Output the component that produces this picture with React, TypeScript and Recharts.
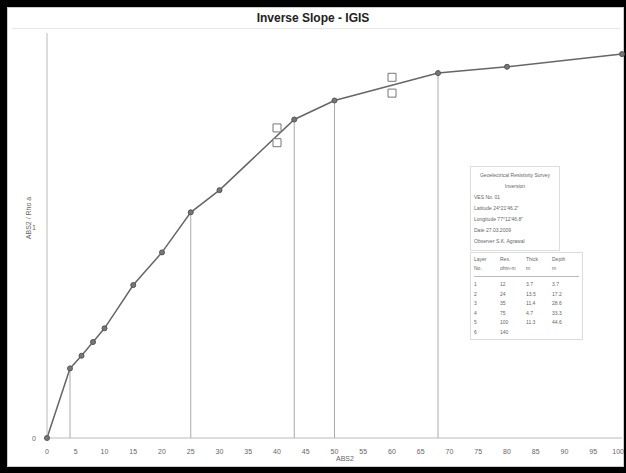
import {
  ComposedChart,
  Line,
  Scatter,
  XAxis,
  YAxis,
  ReferenceLine,
} from "recharts";

// depth (ABS2) and ratio (ABS2 / Rho a) along the fitted curve
const depth = [0, 4, 6, 8, 10, 15, 20, 25, 30, 43, 50, 68, 80, 100];
const ratio = [0, 0.33, 0.39, 0.455, 0.52, 0.725, 0.88, 1.07, 1.175, 1.51, 1.6, 1.73, 1.76, 1.82];

// off-curve observed points (hollow squares)
const obsDepth = [40, 40, 60, 60];
const obsRatio = [1.4, 1.47, 1.635, 1.71];

// layer boundaries marked with drop lines
const breaks = [4, 25, 43, 50, 68];

const xTicks = [0, 5, 10, 15, 20, 25, 30, 35, 40, 45, 50, 55, 60, 65, 70, 75, 80, 85, 90, 95, 100];
const yTicks = [0, 1];

const infoLines = [
  "Geoelectrical Resistivity Survey",
  "Inversion",
  "VES No. 01",
  "Latitude 24°21'46.2\"",
  "Longitude 77°12'46.8\"",
  "Date 27.03.2009",
  "Observer S.K. Agrawal",
];
const layerNo = ["1", "2", "3", "4", "5", "6"];
const layerRes = ["12", "24", "35", "75", "100", "140"];
const layerThick = ["3.7", "13.5", "11.4", "4.7", "11.3", ""];
const layerDepth = ["3.7", "17.2", "28.6", "33.3", "44.6", ""];

const curve = depth.map((d, i) => ({ x: d, y: ratio[i] }));
const obs = obsDepth.map((d, i) => ({ x: d, y: obsRatio[i] }));

const yAt = (x: number) => ratio[depth.indexOf(x)];

const font = "Liberation Sans, Arial, sans-serif";
const grey = "#bbb";

function XTick(props: any) {
  const { x, y, payload } = props;
  const last = payload.value === 100;
  return (
    <text
      x={last ? x + 2 : x}
      y={y + 8}
      textAnchor={last ? "end" : "middle"}
      fontSize={7}
      fill="#666"
      fontFamily={font}
    >
      {payload.value}
    </text>
  );
}

function YTick(props: any) {
  const { x, y, payload } = props;
  return (
    <text x={x - 3} y={y + 3} textAnchor="end" fontSize={7} fill="#666" fontFamily={font}>
      {payload.value}
    </text>
  );
}

export default function App() {
  const col = { display: "inline-block", width: 26, whiteSpace: "nowrap" as const };
  return (
    <div
      style={{
        position: "fixed",
        left: 0,
        top: 0,
        width: 626,
        height: 473,
        background: "#000",
        fontFamily: font,
      }}
    >
      <div
        style={{
          position: "absolute",
          left: 7,
          top: 7,
          width: 617,
          height: 460,
          background: "#fff",
          border: "1px solid #ccc",
          boxSizing: "border-box",
        }}
      />
      <div
        style={{
          position: "absolute",
          left: 0,
          top: 11,
          width: 626,
          textAlign: "center",
          fontWeight: "bold",
          fontSize: 12,
          color: "#222",
        }}
      >
        Inverse Slope - IGIS
      </div>
      <div style={{ position: "absolute", left: 12, top: 28, width: 608, height: 1, background: "#e8e8e8" }} />
      <div style={{ position: "absolute", left: 0, top: 0 }}>
        <ComposedChart
          width={626}
          height={473}
          margin={{ top: 33, right: 4, bottom: 15, left: 27 }}
        >
          <XAxis
            dataKey="x"
            type="number"
            domain={[0, 100]}
            ticks={xTicks}
            interval={0}
            tick={<XTick />}
            tickLine={false}
            stroke={grey}
            height={20}
            allowDuplicatedCategory={false}
          />
          <XAxis xAxisId="top" orientation="top" type="number" domain={[0, 100]} tick={false} tickLine={false} stroke={grey} height={0} />
          <YAxis
            type="number"
            domain={[0, 1.92]}
            ticks={yTicks}
            tick={<YTick />}
            tickLine={false}
            stroke={grey}
            width={20}
          />
          <YAxis yAxisId="right" orientation="right" type="number" domain={[0, 1.92]} tick={false} tickLine={false} stroke={grey} width={0} />
          {breaks.map((b) => (
            <ReferenceLine
              key={b}
              segment={[
                { x: b, y: 0 },
                { x: b, y: yAt(b) },
              ]}
              stroke="#aaa"
              strokeWidth={1}
            />
          ))}
          <Line
            data={curve}
            dataKey="y"
            type="linear"
            stroke="#666"
            strokeWidth={1.5}
            dot={{ r: 2.5, fill: "#777", stroke: "#555", strokeWidth: 1 }}
            isAnimationActive={false}
          />
          <Scatter
            data={obs}
            dataKey="y"
            shape="square"
            fill="#fff"
            stroke="#777"
            isAnimationActive={false}
          />
        </ComposedChart>
      </div>
      <div style={{ position: "absolute", left: 336, top: 455, fontSize: 7, color: "#666" }}>
        ABS2
      </div>
      <div
        style={{
          position: "absolute",
          left: 28,
          top: 218,
          fontSize: 7,
          color: "#666",
          transform: "translate(-50%, -50%) rotate(-90deg)",
          whiteSpace: "nowrap",
        }}
      >
        ABS2 / Rho a
      </div>
      <div
        style={{
          position: "absolute",
          left: 470,
          top: 166,
          width: 113,
          fontSize: 5,
          color: "#666",
        }}
      >
        <div
          style={{
            width: 82,
            border: "1px solid #ddd",
            padding: "3px 3px",
            lineHeight: "11px",
            background: "#fff",
          }}
        >
          {infoLines.map((t, i) => (
            <div key={t} style={{ textAlign: i < 2 ? "center" : "left", whiteSpace: "nowrap" }}>
              {t}
            </div>
          ))}
        </div>
        <div
          style={{
            border: "1px solid #ddd",
            padding: "2px 3px",
            background: "#fff",
            marginTop: 1,
          }}
        >
          <div style={{ lineHeight: "9px" }}>
            <span style={col}>Layer</span>
            <span style={col}>Res.</span>
            <span style={col}>Thick</span>
            <span style={col}>Depth</span>
          </div>
          <div style={{ lineHeight: "9px", paddingBottom: 3, borderBottom: "1px solid #bbb", marginBottom: 3 }}>
            <span style={col}>No.</span>
            <span style={col}>ohm-m</span>
            <span style={col}>m</span>
            <span style={col}>m</span>
          </div>
          {layerNo.map((n, i) => (
            <div key={n} style={{ lineHeight: "9.5px" }}>
              <span style={col}>{n}</span>
              <span style={col}>{layerRes[i]}</span>
              <span style={col}>{layerThick[i]}</span>
              <span style={col}>{layerDepth[i]}</span>
            </div>
          ))}
        </div>
      </div>
    </div>
  );
}
